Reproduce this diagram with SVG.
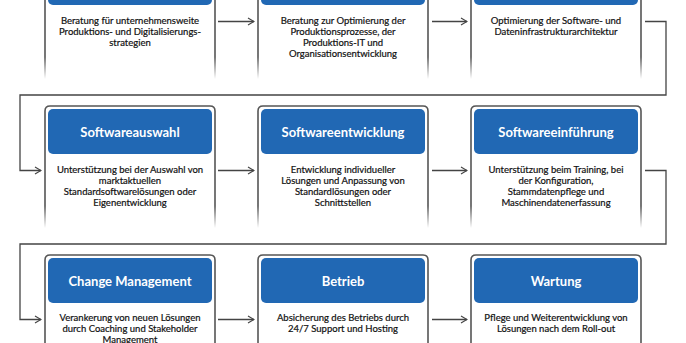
<svg xmlns="http://www.w3.org/2000/svg" width="686" height="343" viewBox="0 0 686 343">
<defs>
<linearGradient id="fade" x1="0" y1="0" x2="0" y2="1">
<stop offset="0" stop-color="#555"/>
<stop offset="0.82" stop-color="#555"/>
<stop offset="1" stop-color="#555" stop-opacity="0"/>
</linearGradient>
<marker id="arr" markerWidth="8" markerHeight="10" refX="7" refY="5" orient="auto" markerUnits="userSpaceOnUse">
<path d="M1,1.5 L7,5 L1,8.5" fill="none" stroke="#444" stroke-width="1.2"/>
</marker>
<g id="card"><path d="M0,122 V5 Q0,0 5,0 H165 Q170,0 170,5 V122" fill="#fff" stroke="url(#fade)" stroke-width="1.6"/><rect x="3" y="3" width="164" height="45" rx="5" fill="#2168b4"/></g>
</defs>
<style>
.t{font-family:"Lato","Open Sans",sans-serif;font-weight:bold;font-size:13px;fill:#fff;text-anchor:middle}
.d{font-family:"Lato","Open Sans",sans-serif;font-size:9.5px;fill:#111;stroke:#111;stroke-width:0.2;text-anchor:middle}
.c{fill:none;stroke:#444;stroke-width:1.3}
</style>
<g id="connectors">
<path class="c" d="M218,21.5 H254" marker-end="url(#arr)"/>
<path class="c" d="M432,21.5 H467" marker-end="url(#arr)"/>
<path class="c" d="M645,21.5 H666 V95 H20 V170.5 H41" marker-end="url(#arr)"/>
<path class="c" d="M218,170.5 H254" marker-end="url(#arr)"/>
<path class="c" d="M432,170.5 H467" marker-end="url(#arr)"/>
<path class="c" d="M645,170.5 H666 V244 H20 V319.5 H41" marker-end="url(#arr)"/>
<path class="c" d="M218,319.5 H254" marker-end="url(#arr)"/>
<path class="c" d="M432,319.5 H467" marker-end="url(#arr)"/>
</g>
<g id="n1" transform="translate(45,-43)"><use href="#card"/>
<text class="d" x="85" y="66.5"><tspan x="85">Beratung für unternehmensweite</tspan><tspan x="85" dy="11">Produktions- und Digitalisierungs-</tspan><tspan x="85" dy="11">strategien</tspan></text></g>
<g id="n2" transform="translate(258,-43)"><use href="#card"/>
<text class="d" x="85" y="66.5"><tspan x="85">Beratung zur Optimierung der</tspan><tspan x="85" dy="11">Produktionsprozesse, der</tspan><tspan x="85" dy="11">Produktions-IT und</tspan><tspan x="85" dy="11">Organisationsentwicklung</tspan></text></g>
<g id="n3" transform="translate(471,-43)"><use href="#card"/>
<text class="d" x="85" y="66.5"><tspan x="85">Optimierung der Software- und</tspan><tspan x="85" dy="11">Dateninfrastrukturarchitektur</tspan></text></g>
<g id="n4" transform="translate(45,106)"><use href="#card"/>
<text class="t" x="85" y="30.5">Softwareauswahl</text>
<text class="d" x="85" y="66.5"><tspan x="85">Unterstützung bei der Auswahl von</tspan><tspan x="85" dy="11">marktaktuellen</tspan><tspan x="85" dy="11">Standardsoftwarelösungen oder</tspan><tspan x="85" dy="11">Eigenentwicklung</tspan></text></g>
<g id="n5" transform="translate(258,106)"><use href="#card"/>
<text class="t" x="85" y="30.5">Softwareentwicklung</text>
<text class="d" x="85" y="66.5"><tspan x="85">Entwicklung individueller</tspan><tspan x="85" dy="11">Lösungen und Anpassung von</tspan><tspan x="85" dy="11">Standardlösungen oder</tspan><tspan x="85" dy="11">Schnittstellen</tspan></text></g>
<g id="n6" transform="translate(471,106)"><use href="#card"/>
<text class="t" x="85" y="30.5">Softwareeinführung</text>
<text class="d" x="85" y="66.5"><tspan x="85">Unterstützung beim Training, bei</tspan><tspan x="85" dy="11">der Konfiguration,</tspan><tspan x="85" dy="11">Stammdatenpflege und</tspan><tspan x="85" dy="11">Maschinendatenerfassung</tspan></text></g>
<g id="n7" transform="translate(45,255)"><use href="#card"/>
<text class="t" x="85" y="30.5">Change Management</text>
<text class="d" x="85" y="65.5"><tspan x="85">Verankerung von neuen Lösungen</tspan><tspan x="85" dy="11">durch Coaching und Stakeholder</tspan><tspan x="85" dy="11">Management</tspan></text></g>
<g id="n8" transform="translate(258,255)"><use href="#card"/>
<text class="t" x="85" y="30.5">Betrieb</text>
<text class="d" x="85" y="65.5"><tspan x="85">Absicherung des Betriebs durch</tspan><tspan x="85" dy="11">24/7 Support und Hosting</tspan></text></g>
<g id="n9" transform="translate(471,255)"><use href="#card"/>
<text class="t" x="85" y="30.5">Wartung</text>
<text class="d" x="85" y="65.5"><tspan x="85">Pflege und Weiterentwicklung von</tspan><tspan x="85" dy="11">Lösungen nach dem Roll-out</tspan></text></g>
</svg>
